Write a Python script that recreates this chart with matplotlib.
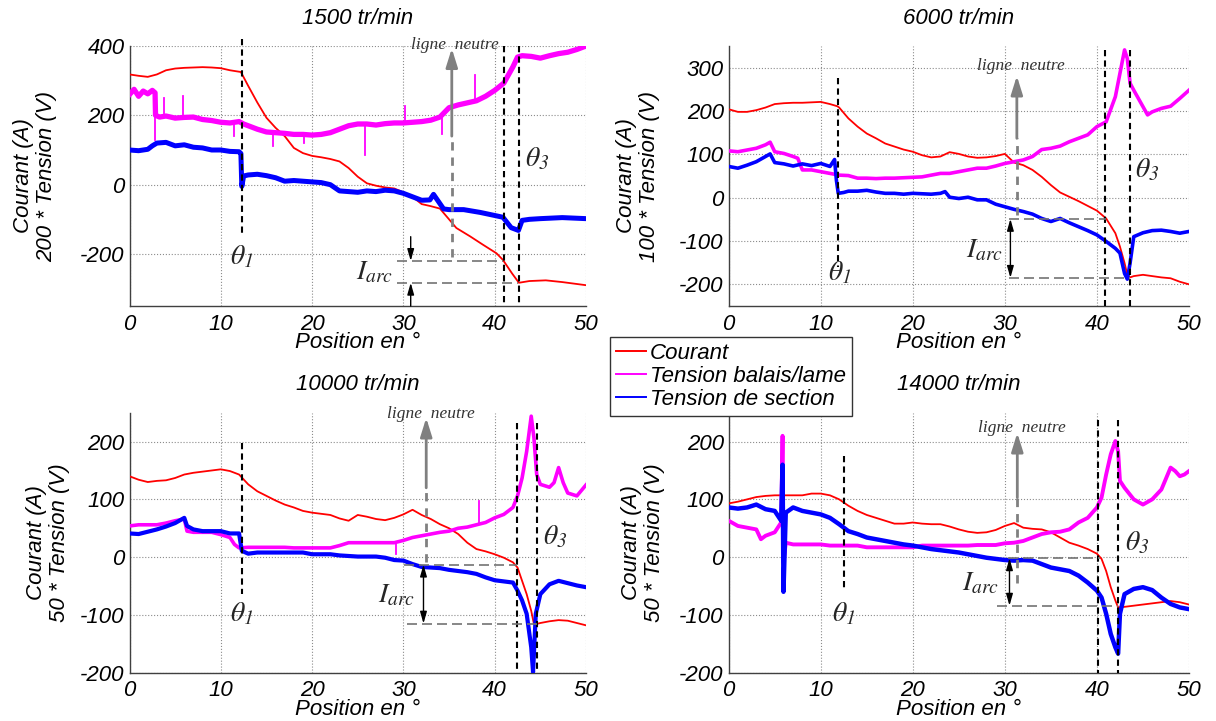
import matplotlib
matplotlib.use('Agg')
import matplotlib.pyplot as plt
from matplotlib.lines import Line2D

plt.rcParams['font.family'] = ['Liberation Sans', 'DejaVu Sans']
plt.rcParams['font.style'] = 'italic'
plt.rcParams['mathtext.fontset'] = 'stix'
plt.rcParams['axes.unicode_minus'] = False

# ---------------- data ----------------
titles = ['1500 tr/min', '6000 tr/min', '10000 tr/min', '14000 tr/min']
ylabels = ['Courant (A)\n200 * Tension (V)', 'Courant (A)\n100 * Tension (V)',
           'Courant (A)\n50 * Tension (V)', 'Courant (A)\n50 * Tension (V)']
series_names = ['Courant', 'Tension balais/lame', 'Tension de section']
xticks = [0, 10, 20, 30, 40, 50]
yticks_list = [[-200, 0, 200, 400], [-200, -100, 0, 100, 200, 300],
               [-200, -100, 0, 100, 200], [-200, -100, 0, 100, 200]]
ylims = [(-350, 400), (-250, 350), (-200, 250), (-200, 250)]

# 1500 tr/min
p1_courant = [(0, 318), (1, 314), (2, 311), (3, 318), (4, 330), (5, 335), (6, 337), (7, 338),
              (8, 339), (9, 338), (10, 336), (11, 330), (12.2, 325), (13, 285), (14, 237),
              (15, 193), (16, 164), (17, 140), (18, 106), (19, 91), (20, 83), (21, 79), (22, 74),
              (23, 67), (24, 48), (25, 23), (26, 4), (27, -3), (28, -8), (29, -11), (30, -22),
              (31, -35), (32, -56), (33, -62), (34, -69), (35, -100), (35.8, -125), (37.3, -149),
              (38.7, -173), (40.2, -198), (40.9, -217), (41.9, -256), (42.65, -283), (43.8, -278),
              (45.6, -276), (47.4, -281), (50, -290)]
p1_balais = [(0, 260), (0.5, 275), (1, 255), (1.5, 270), (2, 262), (2.5, 272), (2.8, 265),
             (2.85, 200), (3.3, 195), (4, 198), (5, 192), (6, 194), (7, 195), (8, 188), (9, 185),
             (10, 180), (11, 178), (12, 182), (12.5, 175), (13, 170), (14, 160), (15, 152),
             (16, 150), (17, 148), (18, 145), (19, 145), (20, 143), (21, 145), (22, 150), (23, 160),
             (24, 170), (25, 175), (26, 175), (27, 172), (28, 176), (29, 178), (30, 178), (31, 180),
             (32, 182), (33, 186), (34, 195), (35, 222), (36, 230), (37, 236), (38, 242), (39, 255),
             (40, 272), (41, 293), (42, 340), (42.5, 368), (43, 372), (44, 370), (45, 365),
             (46, 372), (47, 378), (48, 382), (49, 390), (50, 400)]
# isolated noise spikes of the brush voltage: (x, base, tip)
p1_balais_spikes = [(2.8, 265, 130), (3.8, 195, 250), (5.9, 192, 255), (11.4, 178, 140),
                    (15.7, 150, 111), (19.1, 145, 120), (25.8, 175, 86), (30.2, 178, 227),
                    (34.2, 195, 145), (37.8, 240, 315)]
p1_section = [(0, 100), (1, 98), (2, 102), (2.5, 112), (3, 120), (4, 122), (5, 112), (6, 115),
              (7, 108), (8, 106), (9, 100), (10, 100), (11, 96), (12, 95), (12.2, 90), (12.3, -5),
              (12.5, 25), (13, 28), (14, 30), (15, 26), (16, 20), (17, 10), (18, 12), (19, 10),
              (20, 8), (21, 6), (22, 0), (23, -18), (24, -20), (25, -22), (26, -18), (27, -20),
              (28, -16), (29, -18), (30, -25), (31, -35), (32, -45), (32.9, -44), (33.3, -28),
              (34.4, -70), (35, -72), (36.6, -72), (38.4, -80), (40.2, -90), (40.9, -94),
              (41.8, -124), (42.6, -132), (43, -103), (43.8, -100), (45, -98), (47.4, -95), (50, -98)]

# 6000 tr/min
p2_courant = [(0, 204), (1, 198), (2, 198), (3, 202), (4, 208), (5, 216), (6, 218), (7, 219),
              (8, 219), (9, 220), (10, 221), (11, 216), (11.8, 211), (12, 208), (13, 183),
              (14, 164), (15, 148), (16, 137), (17, 125), (18, 118), (19, 111), (20, 106), (21, 98),
              (22, 93), (23, 95), (24, 105), (25, 101), (26, 95), (27, 92), (28, 93), (29, 96),
              (30, 101), (31, 81), (32, 75), (33, 64), (34, 48), (35, 29), (36, 12), (37, 2),
              (38, -8), (39, -19), (40, -30), (41, -48), (42, -82), (42.5, -113), (43, -151),
              (43.3, -178), (43.6, -184), (44, -181), (45, -178), (46, -181), (47, -184),
              (48, -186), (49, -194), (50, -200)]
p2_balais = [(0, 108), (1, 106), (2, 110), (3, 114), (4, 122), (4.5, 128), (5, 106), (6, 102),
             (7, 95), (7.5, 91), (8, 64), (9, 64), (10, 60), (11, 56), (12, 52), (13, 51), (14, 45),
             (15, 45), (16, 44), (17, 45), (18, 45), (19, 46), (20, 47), (21, 48), (22, 52),
             (23, 56), (24, 56), (25, 60), (26, 64), (27, 68), (28, 68), (29, 73), (30, 79),
             (31, 83), (32, 87), (33, 95), (34, 111), (35, 114), (36, 119), (37, 129), (38, 137),
             (39, 145), (40, 164), (41, 175), (42, 233), (42.5, 287), (43, 341), (43.3, 321),
             (43.6, 264), (44, 248), (45, 210), (45.5, 191), (46, 198), (47, 206), (48, 211),
             (49, 229), (50, 248)]
p2_section = [(0, 72), (1, 68), (2, 75), (3, 83), (4, 95), (4.5, 101), (5, 81), (6, 78), (7, 73),
              (8, 78), (9, 74), (10, 79), (11, 72), (11.5, 88), (11.7, 40), (11.9, 10), (12.5, 12),
              (13, 15), (14, 15), (15, 17), (16, 13), (17, 10), (18, 10), (19, 8), (20, 10),
              (21, 9), (22, 8), (23, 10), (23.5, 14), (24, 1), (25, -2), (26, 1), (27, -5),
              (28, -5), (29, -15), (30, -21), (31, -27), (32, -32), (33, -38), (34, -48),
              (35, -55), (36, -48), (37, -58), (38, -67), (39, -76), (40, -86), (41, -101),
              (42, -117), (42.5, -128), (43, -175), (43.3, -188), (43.6, -151), (44, -90),
              (45, -81), (46, -76), (47, -75), (48, -78), (49, -82), (50, -78)]

# 10000 tr/min
p3_courant = [(0, 140), (1, 134), (2, 130), (3, 132), (4, 133), (5, 137), (6, 143), (7, 146),
              (8, 148), (9, 150), (10, 152), (11, 149), (12, 143), (13, 126), (14, 114), (15, 106),
              (16, 98), (17, 91), (18, 86), (19, 80), (20, 77), (21, 75), (22, 73), (23, 67),
              (24, 63), (25, 73), (26, 70), (27, 66), (28, 64), (29, 68), (30, 74), (31, 82),
              (32, 73), (33, 66), (34, 57), (35, 50), (36, 40), (37, 25), (38, 14), (39, 10),
              (40, 5), (41, -1), (42, -9), (42.5, -18), (43, -41), (43.5, -64), (44, -93),
              (44.3, -116), (44.5, -116), (45, -114), (46, -111), (47, -109), (48, -110),
              (49, -114), (50, -118)]
p3_balais = [(0, 54), (1, 56), (2, 56), (3, 56), (4, 59), (5, 63), (6, 66), (6.3, 45), (7, 43),
             (8, 43), (9, 43), (10, 39), (11, 34), (11.5, 22), (12, 16), (13, 17), (14, 17),
             (15, 17), (16, 17), (17, 17), (18, 16), (19, 16), (20, 16), (21, 16), (22, 16),
             (23, 20), (24, 25), (25, 25), (26, 25), (27, 25), (28, 25), (29, 25), (30, 29),
             (31, 34), (32, 37), (33, 40), (34, 43), (35, 45), (36, 50), (37, 52), (38, 56),
             (39, 60), (40, 68), (41, 74), (42, 86), (42.5, 106),
             (43, 137), (43.5, 183), (44, 244), (44.3, 206), (44.6, 143), (45, 126), (46, 121),
             (46.5, 129), (47, 155), (47.5, 129), (48, 111), (49, 106), (50, 125)]
p3_balais_spikes = [(38.3, 57, 97), (29.2, 25, 5)]
p3_section = [(0, 41), (1, 40), (2, 44), (3, 48), (4, 53), (5, 59), (6, 68), (6.3, 54), (7, 48),
              (8, 45), (9, 45), (10, 45), (11, 41), (12, 41), (12.3, 11), (13, 6), (14, 8),
              (15, 8), (16, 8), (17, 8), (18, 8), (19, 8), (20, 5), (21, 5), (22, 5), (23, 3),
              (24, 2), (25, 1), (26, 1), (27, 1), (28, -1), (29, -5), (30, -6), (31, -12),
              (32, -17), (33, -18), (34, -19), (35, -22), (36, -24), (37, -26), (38, -29),
              (39, -35), (40, -40), (41, -42), (42, -44), (42.5, -58), (43, -75), (43.5, -98),
              (44, -156), (44.2, -199), (44.5, -98), (45, -64), (46, -47), (47, -41), (48, -45),
              (49, -49), (50, -52)]

# 14000 tr/min
p4_courant = [(0, 93), (1, 96), (2, 100), (3, 104), (4, 106), (5, 107), (6, 107), (7, 107),
              (8, 107), (9, 110), (10, 110), (11, 107), (12, 100), (13, 89), (14, 80), (15, 73),
              (16, 68), (17, 63), (18, 58), (19, 58), (20, 60), (21, 58), (22, 57), (23, 57),
              (24, 53), (25, 48), (26, 44), (27, 42), (28, 43), (29, 47), (30, 54), (31, 59),
              (32, 51), (33, 49), (34, 48), (35, 43), (36, 34), (37, 25), (38, 20), (39, 14),
              (40, 6), (40.5, -3), (41, -24), (41.5, -52), (42, -75), (42.3, -87), (43, -86),
              (44, -84), (45, -82), (46, -80), (47, -78), (48, -76), (49, -78), (50, -82)]
p4_balais = [(0, 63), (1, 54), (2, 51), (3, 48), (3.5, 31), (4, 37), (5, 43), (5.7, 60),
             (5.85, 210), (5.95, -10), (6.2, 25), (7, 22), (8, 22), (9, 22), (10, 22), (11, 20),
             (12, 20), (13, 20), (14, 20), (15, 17), (16, 17), (17, 17), (18, 17), (19, 17),
             (20, 17), (21, 20), (22, 20), (23, 20), (24, 20), (25, 20), (26, 20), (27, 21),
             (28, 21), (29, 21), (30, 24), (31, 25), (32, 28), (33, 34), (34, 40), (35, 43),
             (36, 44), (37, 48), (38, 60), (39, 68), (40, 86), (40.5, 103), (41, 143),
             (41.5, 178), (42, 201), (42.3, 183), (42.5, 132), (43, 120), (44, 100), (45, 91),
             (46, 100), (47, 117), (48, 155), (48.5, 149), (49, 140), (49.5, 143), (50, 149)]
p4_section = [(0, 86), (1, 84), (2, 86), (3, 91), (4, 83), (5, 80), (5.7, 63), (5.85, 160),
              (5.95, -60), (6.2, 77), (7, 86), (8, 80), (9, 77), (10, 74), (11, 68), (12, 57),
              (13, 45), (14, 40), (15, 34), (16, 31), (17, 28), (18, 25), (19, 22), (20, 20),
              (21, 17), (22, 14), (23, 12), (24, 10), (25, 8), (26, 5), (27, 2), (28, -1),
              (29, -3), (30, -5), (31, -6), (32, -5), (33, -6), (34, -12), (35, -18), (36, -21),
              (37, -24), (38, -32), (39, -44), (40, -58), (40.5, -70), (41, -98), (41.5, -133),
              (42, -156), (42.3, -167), (42.5, -98), (43, -64), (44, -55), (45, -52), (46, -57),
              (47, -70), (48, -81), (49, -87), (50, -90)]

panel_series = [(p1_courant, p1_balais, p1_section), (p2_courant, p2_balais, p2_section),
                (p3_courant, p3_balais, p3_section), (p4_courant, p4_balais, p4_section)]
panel_spikes = [p1_balais_spikes, [], p3_balais_spikes, []]

# ---------------- annotation geometry (per panel) ----------------
theta1 = [dict(x=12.27, y0=420, y1=-140, lx=12.3, ly=-210),
          dict(x=11.9, y0=276, y1=-160, lx=12.0, ly=-175),
          dict(x=12.27, y0=198, y1=-63, lx=12.3, ly=-98),
          dict(x=12.57, y0=175, y1=-58, lx=12.5, ly=-98)]
theta3 = [dict(xs=(41.0, 42.65), y0=400, lx=44.6, ly=73),
          dict(xs=(40.9, 43.6), y0=341, lx=45.5, ly=64),
          dict(xs=(42.45, 44.6), y0=232, lx=46.6, ly=34),
          dict(xs=(40.1, 42.3), y0=238, lx=44.4, ly=25)]
neutre = [dict(x=35.3, yb=-209, ym=140, yt=393, tx=35.6, ty=402),
          dict(x=31.3, yb=-40, ym=137, yt=281, tx=31.7, ty=304),
          dict(x=32.5, yb=-9, ym=120, yt=241, tx=33.0, ty=247),
          dict(x=31.35, yb=-44, ym=103, yt=215, tx=31.8, ty=224)]
iarc = [dict(yu=-220, yl=-283, xu=(29.3, 40.9), xl=(29.3, 42.6), ax=30.8, split=True, lx=28.9, ly=-252),
        dict(yu=-49, yl=-185, xu=(30.5, 41.0), xl=(30.5, 43.6), ax=30.6, split=False, lx=29.8, ly=-121),
        dict(yu=-13, yl=-115, xu=(30.1, 42.45), xl=(30.4, 44.6), ax=32.2, split=False, lx=31.3, ly=-67),
        dict(yu=-2, yl=-84, xu=(30.3, 40.3), xl=(29.1, 42.3), ax=30.5, split=False, lx=29.4, ly=-46)]

W, H = 1216, 721
rects_px = [(129.5, 586, 46, 306), (728.7, 1189, 46, 306),
            (129.5, 586, 412.7, 672.7), (728.7, 1189, 412.7, 672.7)]
ylabel_x = [-0.207, -0.197, -0.179, -0.186]
title_y = [1 + 28 / 260] * 4
colors = ['#ff0000', '#ff00ff', '#0000ff']
widths_by_panel = [(1.3, 3.8, 3.6), (1.3, 2.6, 2.6), (1.3, 2.6, 3.0), (1.3, 2.8, 3.2)]
FS = 16

fig = plt.figure(figsize=(W / 100, H / 100), dpi=100)

for i in range(4):
    l, r, t, b = rects_px[i]
    ax = fig.add_axes([l / W, 1 - b / H, (r - l) / W, (b - t) / H])
    for k, (s, c, lw) in enumerate(zip(panel_series[i], colors, widths_by_panel[i])):
        xs = [p[0] for p in s]
        ys = [p[1] for p in s]
        ax.plot(xs, ys, color=c, lw=lw, solid_joinstyle='round', zorder=3)
        if k == 1:
            for (sx, sb, st) in panel_spikes[i]:
                ax.plot([sx, sx], [sb, st], color=c, lw=1.3, zorder=3)
    ax.set_xlim(0, 50)
    ax.set_ylim(*ylims[i])
    ax.set_xticks(xticks)
    ax.set_yticks(yticks_list[i])
    ax.grid(True, ls=':', color='0.55', lw=0.8)
    ax.set_axisbelow(True)
    for sp in ['top', 'right']:
        ax.spines[sp].set_visible(False)
    for sp in ['left', 'bottom']:
        ax.spines[sp].set_color('0.25')
        ax.spines[sp].set_linewidth(1.0)
    ax.tick_params(direction='in', length=0, labelsize=FS, color='0.2')
    ax.tick_params(axis='y', pad=3.5)
    ax.tick_params(axis='x', pad=5.5)
    ax.set_xlabel('Position en °', fontsize=FS, va='center')
    ax.xaxis.set_label_coords(0.5, -0.142)
    ax.set_ylabel(ylabels[i], fontsize=FS, va='center', multialignment='center', linespacing=1.15)
    ax.yaxis.set_label_coords(ylabel_x[i], 0.5)
    ax.text(0.5, title_y[i], titles[i], transform=ax.transAxes, ha='center', va='center', fontsize=FS)

    # theta 1
    t1 = theta1[i]
    ax.plot([t1['x'], t1['x']], [t1['y0'], t1['y1']], color='k', lw=1.5, ls=(0, (3, 2)),
            clip_on=False, zorder=4)
    ax.text(t1['lx'], t1['ly'], r'$\theta_{\mathit{1}}$', fontsize=20, ha='center', va='center',
            color='0.15', zorder=5)
    # theta 3
    t3 = theta3[i]
    ylo = ylims[i][0]
    for xv in t3['xs']:
        ax.plot([xv, xv], [t3['y0'], ylo], color='k', lw=1.5, ls=(0, (3, 2)), clip_on=False, zorder=4)
    ax.text(t3['lx'], t3['ly'], r'$\theta_{\mathit{3}}$', fontsize=20, ha='center', va='center',
            color='0.15', zorder=5)
    # ligne neutre
    nn = neutre[i]
    ax.plot([nn['x'], nn['x']], [nn['yb'], nn['ym']], color='0.5', lw=2, ls=(0, (3, 2.5)), zorder=4)
    ax.annotate('', xy=(nn['x'], nn['yt']), xytext=(nn['x'], nn['ym']),
                arrowprops=dict(arrowstyle='-|>,head_length=0.8,head_width=0.25', color='0.5', lw=2,
                                mutation_scale=14, shrinkA=0, shrinkB=0), zorder=4)
    ax.text(nn['tx'], nn['ty'], 'ligne  neutre', family=['Liberation Serif'], fontsize=12.5,
            ha='center', va='center', color='0.2', zorder=5)
    # I arc
    ia = iarc[i]
    ax.plot(ia['xu'], [ia['yu'], ia['yu']], color='0.45', lw=1.2, ls=(0, (6, 3)), zorder=4)
    ax.plot(ia['xl'], [ia['yl'], ia['yl']], color='0.45', lw=1.2, ls=(0, (6, 3)), zorder=4)
    if ia['split']:
        ax.annotate('', xy=(ia['ax'], ia['yu']), xytext=(ia['ax'], -150),
                    arrowprops=dict(arrowstyle='-|>,head_length=0.7,head_width=0.2', color='k', lw=1,
                                    mutation_scale=10, shrinkA=0, shrinkB=0), zorder=5)
        ax.annotate('', xy=(ia['ax'], ia['yl']), xytext=(ia['ax'], ylo),
                    arrowprops=dict(arrowstyle='-|>,head_length=0.7,head_width=0.2', color='k', lw=1,
                                    mutation_scale=10, shrinkA=0, shrinkB=0), zorder=5)
    else:
        ax.annotate('', xy=(ia['ax'], ia['yu']), xytext=(ia['ax'], ia['yl']),
                    arrowprops=dict(arrowstyle='<|-|>,head_length=0.7,head_width=0.2', color='k', lw=1,
                                    mutation_scale=10, shrinkA=0, shrinkB=0), zorder=5)
    ax.text(ia['lx'], ia['ly'], r'$I_{arc}$', fontsize=20, ha='right', va='center', color='0.15', zorder=5)

handles = [Line2D([], [], color=c, lw=1.4) for c in colors]
leg = fig.legend(handles, series_names, loc='upper left', bbox_to_anchor=(610 / W, 1 - 337 / H),
                 frameon=True, fancybox=False, edgecolor='0.2', framealpha=1, borderaxespad=0,
                 fontsize=FS, handlelength=1.35, handletextpad=0.2, labelspacing=0.1,
                 borderpad=0.25)
leg.get_frame().set_linewidth(1.0)

fig.savefig('out.png', dpi=100)
